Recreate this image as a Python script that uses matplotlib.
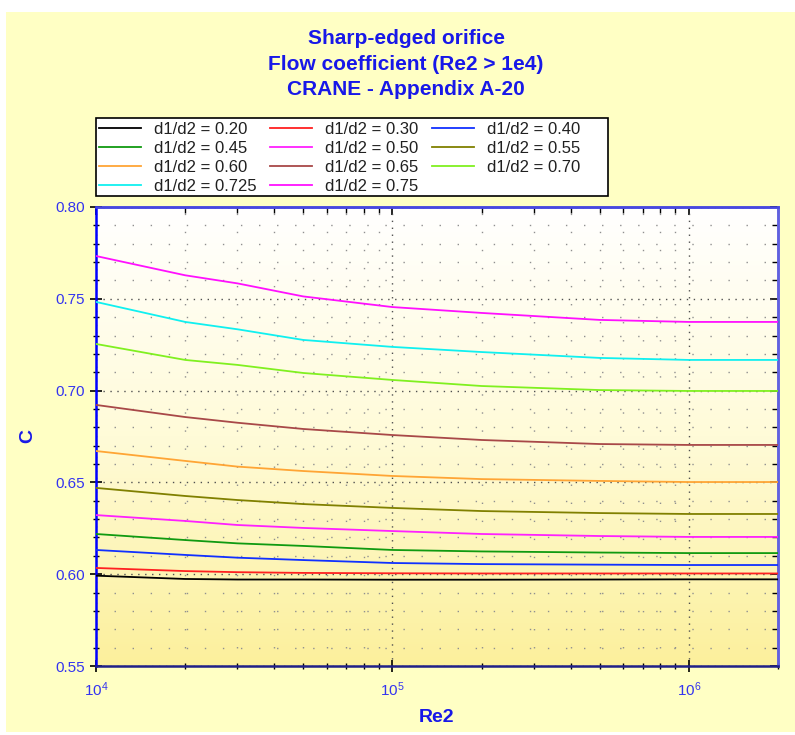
import matplotlib

matplotlib.use("Agg")
import matplotlib.pyplot as plt
import numpy as np
from matplotlib.colors import LinearSegmentedColormap
from matplotlib.patches import Rectangle
from matplotlib.ticker import FixedLocator, FormatStrFormatter, LogLocator, NullFormatter

plt.rcParams["font.family"] = ["Liberation Sans", "DejaVu Sans"]

re2 = [1e4, 2e4, 3e4, 5e4, 1e5, 2e5, 5e5, 1e6, 2e6]

ratios = ["0.20", "0.30", "0.40", "0.45", "0.50", "0.55",
          "0.60", "0.65", "0.70", "0.725", "0.75"]

c_020 = [0.5992, 0.5974, 0.5971, 0.5971, 0.5970, 0.5970, 0.5971, 0.5972, 0.5972]
c_030 = [0.6034, 0.6017, 0.6011, 0.6007, 0.6005, 0.6004, 0.6004, 0.6004, 0.6004]
c_040 = [0.6132, 0.6105, 0.6090, 0.6077, 0.6061, 0.6055, 0.6052, 0.6050, 0.6050]
c_045 = [0.6219, 0.6186, 0.6168, 0.6154, 0.6132, 0.6124, 0.6118, 0.6115, 0.6115]
c_050 = [0.6322, 0.6290, 0.6268, 0.6252, 0.6235, 0.6219, 0.6208, 0.6203, 0.6203]
c_055 = [0.6470, 0.6426, 0.6404, 0.6382, 0.6361, 0.6344, 0.6333, 0.6328, 0.6328]
c_060 = [0.6671, 0.6617, 0.6586, 0.6562, 0.6535, 0.6518, 0.6508, 0.6502, 0.6502]
c_065 = [0.6922, 0.6856, 0.6825, 0.6791, 0.6758, 0.6731, 0.6709, 0.6704, 0.6704]
c_070 = [0.7254, 0.7167, 0.7140, 0.7096, 0.7058, 0.7025, 0.7003, 0.6998, 0.6998]
c_0725 = [0.7483, 0.7374, 0.7334, 0.7276, 0.7238, 0.7210, 0.7178, 0.7167, 0.7167]
c_075 = [0.7733, 0.7628, 0.7584, 0.7513, 0.7455, 0.7423, 0.7385, 0.7374, 0.7374]

series = [c_020, c_030, c_040, c_045, c_050, c_055,
          c_060, c_065, c_070, c_0725, c_075]
colors = ["#000000", "#FF2020", "#1030FF", "#109A10", "#FF20FF", "#808000",
          "#FFA535", "#A84848", "#80F020", "#10F0F0", "#FF10FF"]

blue = "#1818E8"
tick_blue = "#3434F0"

fig = plt.figure(figsize=(7.95, 7.35), dpi=100)
fig.patch.set_facecolor("white")
fig.patches.append(Rectangle((6 / 795, 3 / 735), 789 / 795, 720 / 735,
                             transform=fig.transFigure, facecolor="#FFFFC4",
                             edgecolor="none", zorder=-10))
# legend box drawn separately so it keeps the reference width
fig.patches.append(Rectangle((96 / 795, 1 - 196 / 735), 512 / 795, 78 / 735,
                             transform=fig.transFigure, facecolor="white",
                             edgecolor="black", linewidth=1.2, zorder=-5))

ax = fig.add_axes([96 / 795, 69 / 735, 682 / 795, 459 / 735])
ax.set_xscale("log")

# white-to-yellow background inside the plot
grad = LinearSegmentedColormap.from_list("bg", ["#FFFFFF", "#FFFBD8", "#FCF09C"])
ax.imshow(np.linspace(0, 1, 256).reshape(-1, 1), cmap=grad, aspect="auto",
          extent=[0, 1, 0, 1], transform=ax.transAxes, origin="upper", zorder=0)

handles = []
for ratio, vals, col in zip(ratios, series, colors):
    (ln,) = ax.plot(re2, vals, color=col, linewidth=1.3, zorder=3,
                    label=f"d1/d2 = {ratio}")
    handles.append(ln)

ax.set_xlim(1e4, 2e6)
ax.set_ylim(0.55, 0.80)

y_major = [0.55, 0.60, 0.65, 0.70, 0.75, 0.80]
y_minor = np.arange(0.55, 0.8001, 0.01)
ax.yaxis.set_major_locator(FixedLocator(y_major))
ax.yaxis.set_minor_locator(FixedLocator(y_minor))
ax.yaxis.set_major_formatter(FormatStrFormatter("%.2f"))
ax.xaxis.set_major_locator(LogLocator(base=10, numticks=10))
ax.xaxis.set_minor_locator(LogLocator(base=10, subs=np.arange(2, 10), numticks=20))

ax.grid(which="major", color="#505050", linestyle=(0, (1, 4)), linewidth=1.0, zorder=1)
ax.grid(which="minor", color="#909090", linestyle=(0, (1, 12)), linewidth=1.0, zorder=1)
ax.set_axisbelow(True)

ax.tick_params(which="major", direction="inout", length=9, width=1.2, color="black",
               labelcolor=tick_blue, labelsize=11)
ax.tick_params(which="minor", direction="inout", length=5, width=1.0, color="black")
ax.tick_params(axis="x", which="major", pad=6, labelsize=11)

# inward ticks on the top and right edges
top = ax.secondary_xaxis("top")
top.xaxis.set_major_locator(LogLocator(base=10, numticks=10))
top.xaxis.set_minor_locator(LogLocator(base=10, subs=np.arange(2, 10), numticks=20))
top.xaxis.set_major_formatter(NullFormatter())
top.xaxis.set_minor_formatter(NullFormatter())
top.tick_params(which="major", direction="in", length=6, width=1.2, color="black")
top.tick_params(which="minor", direction="in", length=4, width=1.0, color="black")
right = ax.secondary_yaxis("right")
right.yaxis.set_major_locator(FixedLocator(y_major))
right.yaxis.set_minor_locator(FixedLocator(y_minor))
right.yaxis.set_major_formatter(NullFormatter())
right.tick_params(which="major", direction="in", length=6, width=1.2, color="black")
right.tick_params(which="minor", direction="in", length=4, width=1.0, color="black")

for side, col in [("left", "#0000FF"), ("top", "#4848E0"),
                  ("right", "#6060E0"), ("bottom", "#202088")]:
    ax.spines[side].set_color(col)
    ax.spines[side].set_linewidth(1.8)
top.spines["top"].set_color("#4848E0")
top.spines["top"].set_linewidth(1.8)
right.spines["right"].set_color("#6060E0")
right.spines["right"].set_linewidth(1.8)

ax.set_xlabel("Re2", color=blue, fontsize=14, fontweight="bold", labelpad=7)
fig.text(28 / 795, 1 - 436 / 735, "C", rotation=90, ha="center", va="center",
         color=blue, fontsize=14, fontweight="bold")

fig.text(406 / 795, 1 - 64 / 735,
         "Sharp-edged orifice\nFlow coefficient (Re2 > 1e4)\nCRANE - Appendix A-20",
         ha="center", va="center", color=blue, fontsize=15, fontweight="bold",
         linespacing=1.42)

# legend: columns filled top-down, so items line up row by row
order = [0, 3, 6, 9, 1, 4, 7, 10, 2, 5, 8]
leg = fig.legend([handles[i] for i in order], [handles[i].get_label() for i in order],
                 ncol=3, loc="upper left",
                 bbox_to_anchor=(96 / 795, 1 - 119 / 735),
                 frameon=False, fontsize=12, handlelength=2.5, handletextpad=0.8,
                 columnspacing=0.8, labelspacing=0.24, borderpad=0.2,
                 borderaxespad=0)
for txt in leg.get_texts():
    txt.set_color("#202020")

fig.savefig("out.png", dpi=100)
